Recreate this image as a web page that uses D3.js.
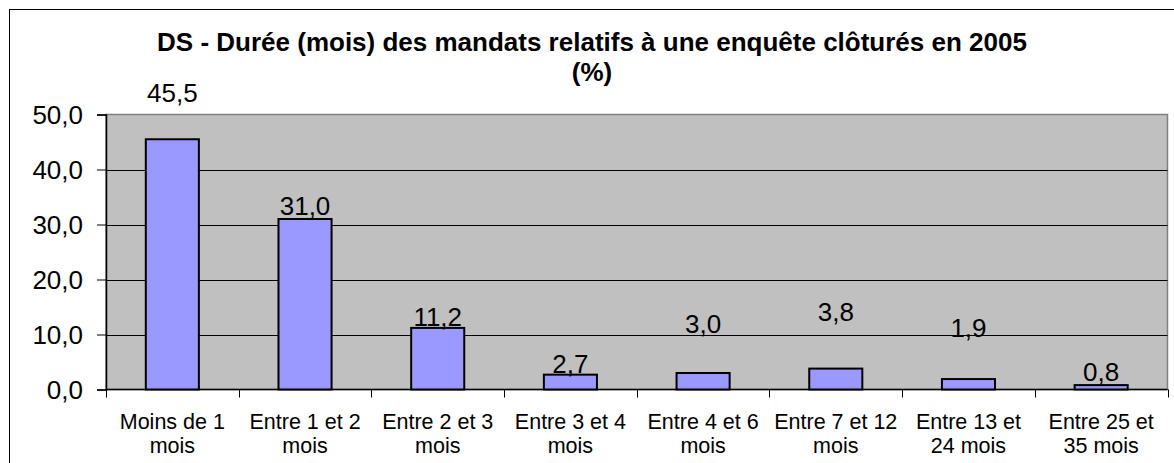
<!DOCTYPE html>
<html lang="fr">
<head>
    <meta charset="UTF-8">
    <title>DS - Durée des mandats</title>
    <script src="https://d3js.org/d3.v7.min.js"></script>
    <style>
        body { margin: 0; background: #fff; }
        svg { display: block; }
        text { font-family: "Liberation Sans", Arial, sans-serif; fill: #000; }
        .title { font-size: 26px; font-weight: bold; text-anchor: middle; }
        .tick-label { font-size: 26px; text-anchor: end; }
        .cat-label { font-size: 21.5px; text-anchor: middle; }
        .bar-label { font-size: 26px; text-anchor: middle; }
    </style>
</head>
<body>
    <svg id="chart"></svg>
    <script>
        // categories, two lines each
        const categories = [
          ["Moins de 1", "mois"],
          ["Entre 1 et 2", "mois"],
          ["Entre 2 et 3", "mois"],
          ["Entre 3 et 4", "mois"],
          ["Entre 4 et 6", "mois"],
          ["Entre 7 et 12", "mois"],
          ["Entre 13 et", "24 mois"],
          ["Entre 25 et", "35 mois"]
        ];
        const values = [45.5, 31.0, 11.2, 2.7, 3.0, 3.8, 1.9, 0.8];
        const yTicks = [0, 10, 20, 30, 40, 50];
        const titleLines = ["DS - Durée (mois) des mandats relatifs à une enquête clôturés en 2005", "(%)"];
        // how far (px) each data label sits above its bar, as placed in the original
        const labelLift = [37, 4, 1.5, 2, 40, 48, 42, 4.5];

        const width = 1174;
        const height = 463;
        const plot = { left: 106, right: 1167.5, top: 114.5, bottom: 389.5 };

        const svg = d3.select("#chart").attr("width", width).attr("height", height);

        // outer chart border (runs off the right/bottom of the window)
        svg.append("rect")
          .attr("x", 9.5).attr("y", 9.5)
          .attr("width", 1200).attr("height", 500)
          .attr("fill", "#fff").attr("stroke", "#000").attr("stroke-width", 1);

        svg.selectAll(".title")
          .data(titleLines)
          .enter().append("text")
          .attr("class", "title")
          .attr("x", 592)
          .attr("y", (d, i) => 51 + i * 30)
          .text(d => d);

        const x = d3.scaleBand()
          .domain(d3.range(categories.length))
          .range([plot.left, plot.right])
          .paddingInner(0.6)
          .paddingOuter(0.3);

        const xBand = d3.scaleBand()
          .domain(d3.range(categories.length))
          .range([plot.left, plot.right]);

        const y = d3.scaleLinear().domain([0, 50]).range([plot.bottom, plot.top]);

        // plot area
        svg.append("rect")
          .attr("x", plot.left).attr("y", plot.top)
          .attr("width", plot.right - plot.left).attr("height", plot.bottom - plot.top)
          .attr("fill", "#C0C0C0").attr("stroke", "#808080").attr("stroke-width", 1.5);

        // gridlines
        svg.selectAll(".grid")
          .data(yTicks.filter(t => t > 0 && t < 50))
          .enter().append("line")
          .attr("x1", plot.left).attr("x2", plot.right)
          .attr("y1", d => Math.round(y(d)) + 0.5).attr("y2", d => Math.round(y(d)) + 0.5)
          .attr("stroke", "#000").attr("stroke-width", 1);

        // y axis
        const yAxis = d3.axisLeft(y).tickValues(yTicks).tickSize(9).tickFormat(d => d3.format(".1f")(d).replace(".", ","));
        const gy = svg.append("g").attr("transform", `translate(${plot.left},0)`).call(yAxis);
        gy.select(".domain").attr("stroke", "#000").attr("stroke-width", 1.5);
        gy.selectAll(".tick line").attr("stroke", "#000");
        gy.selectAll(".tick text")
          .attr("class", "tick-label")
          .attr("x", -23)
          .attr("dy", "0.35em")
          .style("font-size", "26px")
          .style("font-family", "'Liberation Sans', Arial, sans-serif");

        // x axis baseline and category ticks
        svg.append("line")
          .attr("x1", plot.left).attr("x2", plot.right)
          .attr("y1", plot.bottom).attr("y2", plot.bottom)
          .attr("stroke", "#000").attr("stroke-width", 1.5);

        svg.selectAll(".xtick")
          .data(d3.range(categories.length + 1))
          .enter().append("line")
          .attr("x1", d => Math.round(plot.left + d * xBand.step()) + 0.5)
          .attr("x2", d => Math.round(plot.left + d * xBand.step()) + 0.5)
          .attr("y1", plot.bottom).attr("y2", plot.bottom + 8)
          .attr("stroke", "#000");

        // bars
        svg.selectAll(".bar")
          .data(values)
          .enter().append("rect")
          .attr("x", (d, i) => x(i))
          .attr("y", d => y(d))
          .attr("width", x.bandwidth())
          .attr("height", d => y(0) - y(d))
          .attr("fill", "#9999FF")
          .attr("stroke", "#000")
          .attr("stroke-width", 2);

        // data labels
        svg.selectAll(".bar-label")
          .data(values)
          .enter().append("text")
          .attr("class", "bar-label")
          .attr("x", (d, i) => x(i) + x.bandwidth() / 2)
          .attr("y", (d, i) => y(d) - labelLift[i])
          .text(d => d3.format(".1f")(d).replace(".", ","));

        // category labels
        const cat = svg.selectAll(".cat-label")
          .data(categories)
          .enter().append("text")
          .attr("class", "cat-label")
          .attr("x", (d, i) => xBand(i) + xBand.bandwidth() / 2)
          .attr("y", 429);

        cat.selectAll("tspan")
          .data(d => d)
          .enter().append("tspan")
          .attr("x", function () { return d3.select(this.parentNode).attr("x"); })
          .attr("dy", (d, i) => i === 0 ? 0 : 24)
          .text(d => d);
    </script>
</body>
</html>
